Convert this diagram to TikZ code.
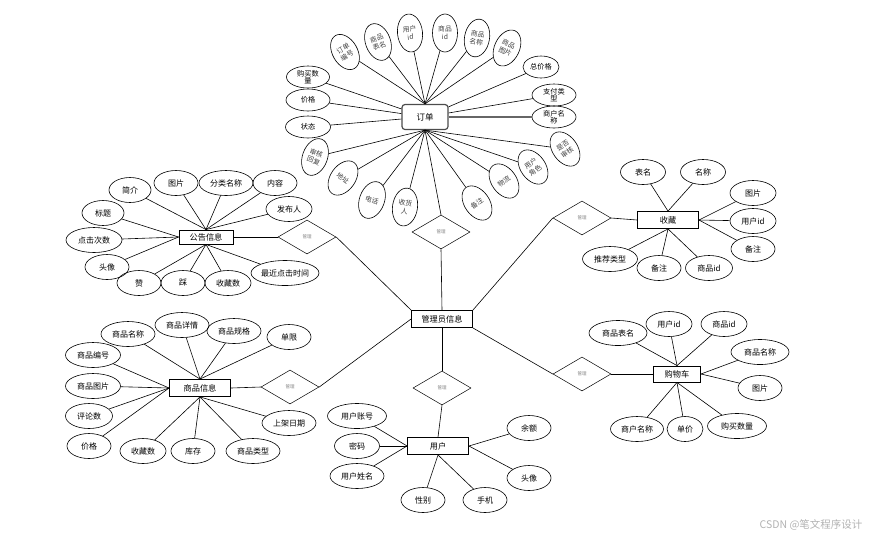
\documentclass[tikz,border=0pt]{standalone}
\usepackage{fontspec}
\setmainfont{Noto Sans CJK SC}
\usetikzlibrary{shapes.geometric}

\tikzset{
  ent/.style={draw,line width=0.9pt,minimum width=61pt,minimum height=17pt,inner sep=0pt,font=\fontsize{8.2}{9}\selectfont},
  attr/.style={draw,ellipse,line width=0.6pt,minimum width=44pt,minimum height=25pt,inner sep=0pt,align=center,font=\fontsize{8}{8.5}\selectfont},
  oattr/.style={draw,ellipse,line width=0.6pt,minimum width=25pt,minimum height=38pt,inner sep=0pt,align=center,text=black!75,font=\fontsize{6.8}{8}\selectfont},
  rel/.style={draw,diamond,line width=0.5pt,minimum width=58pt,minimum height=34pt,inner sep=0pt,text=black!50,font=\fontsize{4.5}{5}\selectfont},
  conn/.style={line width=0.6pt},
}

\begin{document}
\begin{tikzpicture}[x=1pt,y=-1pt]
\useasboundingbox (0,0) rectangle (869,542);

% centre and relations
\node (gly) [ent] at (442,319) {管理员信息};
\node (dd) [ent,rounded corners=3pt,minimum width=46pt,minimum height=25pt,draw=black!70,line width=1.2pt,font=\fontsize{8.5}{9}\selectfont] at (425,117) {订单};
\node (gg) [ent,minimum width=54pt,minimum height=14pt] at (206,237) {公告信息};
\node (sc) [ent] at (668,220) {收藏};
\node (gwc) [ent,minimum width=47pt,minimum height=16pt] at (677,374) {购物车};
\node (sp) [ent] at (200,388) {商品信息};
\node (yh) [ent] at (438,446) {用户};

\node (gl1) [rel] at (307,237) {管理};
\node (gl2) [rel] at (441,232) {管理};
\node (gl3) [rel] at (582,218) {管理};
\node (gl4) [rel] at (582,374) {管理};
\node (gl5) [rel] at (290,387) {管理};
\node (gl6) [rel] at (442,388) {管理};

\draw[conn] (gg.east) -- (gl1.west);
\draw[conn] (gl1.east) -- (gly.north west);
\draw[conn] (dd.south) -- (gl2.north);
\draw[conn] (gl2.south) -- (gly.north);
\draw[conn] (sc.west) -- (gl3.east);
\draw[conn] (gl3.west) -- (gly.north east);
\draw[conn] (gwc.west) -- (gl4.east);
\draw[conn] (gl4.west) -- (gly.south east);
\draw[conn] (sp.east) -- (gl5.west);
\draw[conn] (gl5.east) -- (gly.west);
\draw[conn] (gly.south) -- (gl6.north);
\draw[conn] (gl6.south) -- (yh.north);

% 订单
\foreach \n/\x/\y/\r/\t in {dd1/345/52/30/{订单\\编号},dd2/378/42/20/{商品\\表名},dd3/410/33/6/{用户\\id},
  dd4/445/33/0/{商品\\id},dd5/477/38/-10/{商品\\名称},dd6/507/48/-25/{商品\\图片}}{
  \node (\n) [oattr,rotate=\r] at (\x,\y) {\t};
  \draw[conn] (dd.north) -- (\n);
}
\foreach \n/\x/\y/\r/\t in {dd7/315/157/-20/{审核\\回复},dd8/343/178/-35/{地址},dd9/372/200/-20/{电话},
  dd10/405/207/-8/{收货\\人},dd11/477/203/35/{备注},dd12/504/181/35/{物流},dd13/533/167/35/{用户\\角色},dd14/565/149/35/{是否\\审核}}{
  \node (\n) [oattr,rotate=\r] at (\x,\y) {\t};
  \draw[conn] (dd.south) -- (\n);
}
\foreach \n/\x/\y/\w/\t in {dd15/308/77/43/{购买数\\量},dd16/308/100/44/{价格},dd17/308/127/45/{状态},
  dd18/541/67/36/{总价格},dd19/554/95/44/{支付类\\型},dd20/554/117/44/{商户名\\称}}{
  \node (\n) [attr,minimum width=\w pt,minimum height=22pt,font=\fontsize{7.2}{7.5}\selectfont] at (\x,\y) {\t};
}
\foreach \n in {dd15,dd16,dd17}
  \draw[conn] (dd) -- (\n);
\foreach \n in {dd18,dd19}
  \draw[conn] (dd) -- (\n);
\draw[line width=1.3pt,black!60] (dd) -- (dd20);

% 公告信息
\foreach \n/\x/\y/\w/\t in {gg1/130/190/42/简介,gg2/176/183/44/图片,gg3/226/183/54/分类名称,gg4/275/183/44/内容,
  gg5/289/209/46/发布人,gg6/103/213/42/标题,gg7/94/240/56/点击次数,gg8/107/267/44/头像,
  gg9/139/283/44/赞,gg10/183/283/44/踩,gg11/228/283/46/收藏数,gg12/285/273/68/最近点击时间}{
  \node (\n) [attr,minimum width=\w pt] at (\x,\y) {\t};
}
\foreach \n in {gg1,gg2,gg3,gg4,gg5}
  \draw[conn] (gg.north) -- (\n);
\foreach \n in {gg6,gg7,gg8}
  \draw[conn] (gg.west) -- (\n);
\foreach \n in {gg9,gg10,gg11,gg12}
  \draw[conn] (gg.south) -- (\n);

% 收藏
\foreach \n/\x/\y/\w/\t in {sc1/643/172/45/表名,sc2/703/172/45/名称,sc3/753/193/46/图片,sc4/753/221/46/用户id,
  sc5/753/249/44/备注,sc6/610/259/55/推荐类型,sc7/659/268/44/备注,sc8/709/268/47/商品id}{
  \node (\n) [attr,minimum width=\w pt] at (\x,\y) {\t};
}
\foreach \n in {sc1,sc2}
  \draw[conn] (sc.north) -- (\n);
\foreach \n in {sc3,sc4,sc5}
  \draw[conn] (sc.east) -- (\n);
\foreach \n in {sc6,sc7,sc8}
  \draw[conn] (sc.south) -- (\n);

% 购物车
\foreach \n/\x/\y/\w/\t in {gwc1/618/333/58/商品表名,gwc2/669/324/46/用户id,gwc3/724/324/46/商品id,
  gwc4/760/352/58/商品名称,gwc5/760/388/44/图片,gwc6/737/426/59/购买数量,gwc7/685/429/36/单价,gwc8/637/429/53/商户名称}{
  \node (\n) [attr,minimum width=\w pt] at (\x,\y) {\t};
}
\foreach \n in {gwc1,gwc2,gwc3}
  \draw[conn] (gwc.north) -- (\n);
\foreach \n in {gwc4,gwc5}
  \draw[conn] (gwc.east) -- (\n);
\foreach \n in {gwc6,gwc7,gwc8}
  \draw[conn] (gwc.south) -- (\n);

% 商品信息
\foreach \n/\x/\y/\w/\t in {sp1/128/334/54/商品名称,sp2/182/325/54/商品详情,sp3/234/331/54/商品规格,sp4/289/337/44/单限,
  sp5/93/355/55/商品编号,sp6/93/386/55/商品图片,sp7/89/416/47/评论数,sp8/89/446/44/价格,
  sp9/143/451/46/收藏数,sp10/193/451/44/库存,sp11/253/451/54/商品类型,sp12/289/423/54/上架日期}{
  \node (\n) [attr,minimum width=\w pt] at (\x,\y) {\t};
}
\foreach \n in {sp1,sp2,sp3,sp4}
  \draw[conn] (sp.north) -- (\n);
\foreach \n in {sp5,sp6,sp7,sp8}
  \draw[conn] (sp.west) -- (\n);
\foreach \n in {sp9,sp10,sp11,sp12}
  \draw[conn] (sp.south) -- (\n);

% 用户
\foreach \n/\x/\y/\w/\t in {yh1/357/416/59/用户账号,yh2/357/446/45/密码,yh3/357/476/54/用户姓名,
  yh4/423/500/44/性别,yh5/485/500/44/手机,yh6/529/478/44/头像,yh7/529/428/44/余额}{
  \node (\n) [attr,minimum width=\w pt] at (\x,\y) {\t};
}
\foreach \n in {yh1,yh2,yh3}
  \draw[conn] (yh.west) -- (\n);
\foreach \n in {yh4,yh5}
  \draw[conn] (yh.south) -- (\n);
\foreach \n in {yh6,yh7}
  \draw[conn] (yh.east) -- (\n);

\node (wm) [anchor=east,text=black!30,font=\fontsize{10.5}{12}\selectfont] at (866,525) {CSDN @笔文程序设计};
\end{tikzpicture}
\end{document}
